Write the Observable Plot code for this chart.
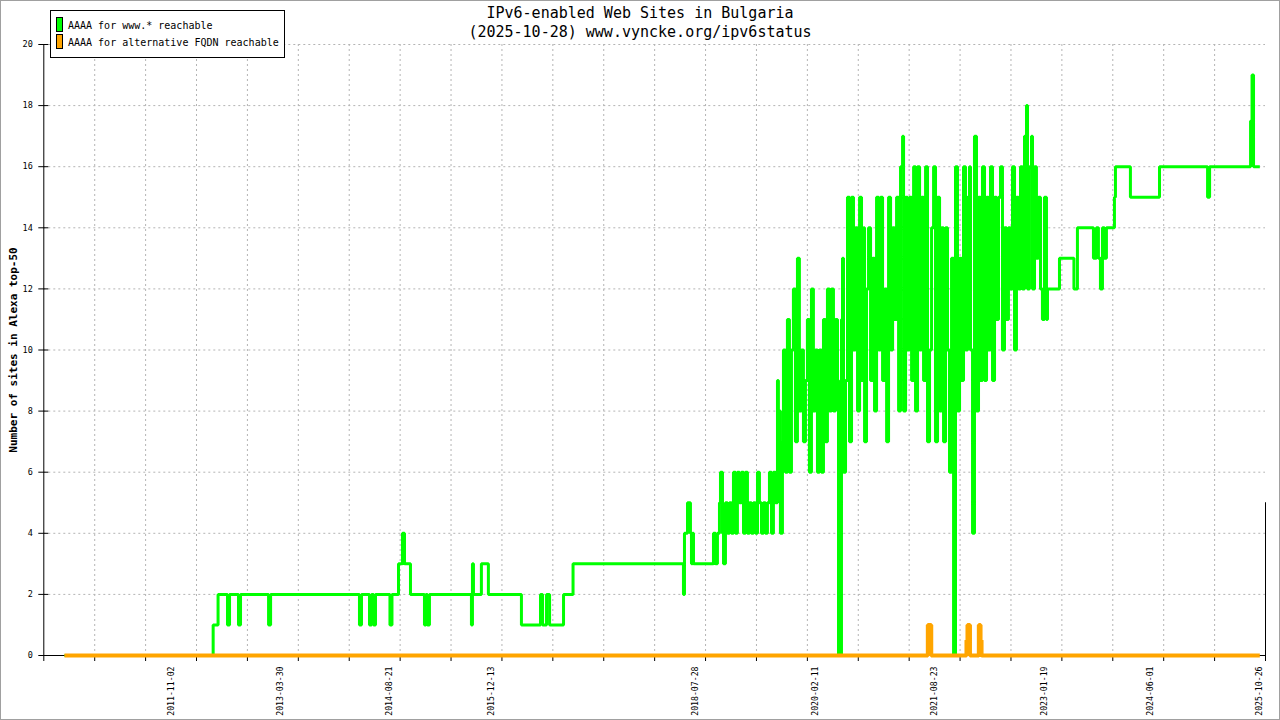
<!DOCTYPE html>
<html>
<head>
<meta charset="utf-8">
<script src="https://cdn.jsdelivr.net/npm/d3@7"></script>
<script src="https://cdn.jsdelivr.net/npm/@observablehq/plot@0.6"></script>
<style>
  body { margin: 0; background: #fff; }
  #wrap { position: relative; width: 1280px; height: 720px; overflow: hidden; font-family: "DejaVu Sans Mono", monospace; }
  #frame { position: absolute; left: 0; top: 0; width: 1280px; height: 720px; box-sizing: border-box; border: 1px solid #a0a0a0; pointer-events: none; }
  #title { position: absolute; left: 0; top: 4px; width: 1280px; text-align: center; font-size: 15px; line-height: 19px; color: #000; }
  #legend { position: absolute; left: 50px; top: 10px; width: 233px; height: 46px; border: 1px solid #000; background: #fff; font-size: 10px; }
  .sw { position: absolute; left: 5px; width: 5px; height: 13px; border: 1px solid #000; }
  .lt { position: absolute; left: 17px; line-height: 10px; white-space: pre; }
</style>
</head>
<body>
<div id="wrap">
  <div id="chart"></div>
  <div id="title">IPv6-enabled Web Sites in Bulgaria<br>(2025-10-28) www.vyncke.org/ipv6status</div>
  <div id="legend">
    <div class="sw" style="top:6px;background:#00ff00"></div>
    <div class="lt" style="top:10px">AAAA for www.* reachable</div>
    <div class="sw" style="top:23px;background:#ffa500"></div>
    <div class="lt" style="top:27px">AAAA for alternative FQDN reachable</div>
  </div>
  <div id="frame"></div>
</div>
<script>
// x range of the frame, as decimal years
const xStart = 2010.195;
const xEnd = 2025.896;

// date labels written under the axis
const labelDates = ["2011-11-02", "2013-03-30", "2014-08-21", "2015-12-13", "2018-07-28",
  "2020-02-11", "2021-08-23", "2023-01-19", "2024-06-01", "2025-10-26"];

const yTicks = [0, 2, 4, 6, 8, 10, 12, 14, 16, 18, 20];

// AAAA for www.* reachable : [decimal year, sites]
const wwwSteps = [
  [2010.461, 0], [2012.372, 1], [2012.435, 2], [2012.556, 1], [2012.582, 2], [2012.697, 1],
  [2012.723, 2], [2013.083, 1], [2013.109, 2], [2014.252, 1], [2014.278, 2], [2014.381, 1],
  [2014.407, 2], [2014.433, 1], [2014.458, 2], [2014.644, 1], [2014.670, 2], [2014.754, 3],
  [2014.805, 4], [2014.831, 3], [2014.908, 2], [2015.088, 1], [2015.107, 2], [2015.126, 1],
  [2015.152, 2], [2015.692, 1], [2015.705, 3], [2015.718, 2], [2015.820, 3], [2015.910, 2],
  [2016.334, 1], [2016.579, 2], [2016.605, 1], [2016.656, 2], [2016.695, 1], [2016.874, 2],
  [2016.996, 3], [2018.416, 2], [2018.429, 4], [2018.468, 5], [2018.506, 4], [2018.519, 3],
  [2018.532, 4], [2018.545, 3],
  [2018.802, 4], [2018.828, 3], [2018.853, 4], [2018.879, 5], [2018.892, 6], [2018.918, 4],
  [2018.931, 3], [2018.956, 5], [2018.982, 4], [2019.008, 5], [2019.033, 4], [2019.059, 6],
  [2019.085, 4], [2019.110, 6], [2019.136, 5], [2019.162, 6], [2019.188, 4], [2019.213, 6],
  [2019.239, 4], [2019.265, 5], [2019.290, 4], [2019.316, 5], [2019.342, 4], [2019.368, 6],
  [2019.393, 5], [2019.419, 4], [2019.445, 5], [2019.470, 4], [2019.496, 5], [2019.522, 6],
  [2019.548, 4], [2019.573, 6], [2019.599, 5], [2019.625, 9], [2019.637, 6], [2019.650, 8],
  [2019.663, 4], [2019.689, 7], [2019.702, 10], [2019.727, 6], [2019.753, 11], [2019.779, 6],
  [2019.805, 10], [2019.830, 12], [2019.856, 7], [2019.882, 13], [2019.907, 8], [2019.933, 10],
  [2019.959, 7], [2019.985, 9], [2020.010, 11], [2020.036, 6], [2020.062, 12], [2020.087, 8],
  [2020.113, 10], [2020.139, 6], [2020.164, 10], [2020.190, 6], [2020.216, 11], [2020.242, 7],
  [2020.267, 12], [2020.293, 8], [2020.319, 12], [2020.344, 8], [2020.370, 11], [2020.396, 9],
  [2020.409, 0], [2020.447, 11], [2020.460, 13], [2020.473, 6], [2020.499, 9], [2020.524, 15],
  [2020.550, 7], [2020.576, 15], [2020.601, 10], [2020.627, 14], [2020.653, 8], [2020.679, 15],
  [2020.704, 9], [2020.730, 14], [2020.743, 7], [2020.768, 12], [2020.794, 14], [2020.820, 9],
  [2020.846, 13], [2020.871, 8], [2020.897, 15], [2020.923, 10], [2020.948, 15], [2020.974, 9],
  [2021.000, 12], [2021.026, 7], [2021.051, 15], [2021.077, 10], [2021.103, 14], [2021.128, 11],
  [2021.154, 15], [2021.180, 8], [2021.205, 16], [2021.231, 17], [2021.244, 8], [2021.270, 15],
  [2021.295, 10], [2021.321, 15], [2021.347, 9], [2021.373, 16], [2021.398, 8], [2021.424, 16],
  [2021.450, 10], [2021.475, 15], [2021.501, 9], [2021.527, 16], [2021.552, 7], [2021.578, 10],
  [2021.604, 14], [2021.630, 16], [2021.655, 7], [2021.681, 15], [2021.707, 8], [2021.732, 14],
  [2021.758, 7], [2021.784, 14], [2021.809, 10], [2021.835, 6], [2021.861, 13], [2021.887, 0],
  [2021.912, 16], [2021.938, 8], [2021.964, 13], [2021.989, 9], [2022.015, 16], [2022.041, 10],
  [2022.067, 15], [2022.092, 16], [2022.105, 10], [2022.131, 4], [2022.156, 17], [2022.182, 8],
  [2022.208, 15], [2022.234, 9], [2022.259, 16], [2022.285, 9], [2022.311, 15], [2022.336, 10],
  [2022.362, 16], [2022.388, 9], [2022.414, 15], [2022.439, 11], [2022.465, 15], [2022.491, 16],
  [2022.516, 10], [2022.542, 14], [2022.568, 11], [2022.593, 14], [2022.619, 12], [2022.645, 16],
  [2022.671, 10], [2022.696, 15], [2022.722, 12], [2022.748, 16], [2022.773, 12], [2022.799, 17],
  [2022.825, 18], [2022.838, 12], [2022.863, 16], [2022.889, 17], [2022.902, 12], [2022.928, 16],
  [2022.953, 13], [2022.979, 15], [2023.005, 12], [2023.030, 11], [2023.056, 15], [2023.082, 11],
  [2023.095, 12], [2023.249, 13], [2023.435, 12], [2023.480, 14], [2023.686, 13], [2023.724, 14],
  [2023.750, 13], [2023.776, 12], [2023.802, 14], [2023.827, 13], [2023.853, 14], [2023.956, 15],
  [2023.969, 16], [2024.161, 15], [2024.534, 16], [2025.151, 15], [2025.177, 16], [2025.704, 17.5],
  [2025.723, 19], [2025.742, 16], [2025.823, 16]
];

// AAAA for alternative FQDN reachable
const altSteps = [
  [2010.461, 0], [2021.556, 1], [2021.600, 0], [2022.053, 0.5], [2022.066, 1], [2022.098, 0],
  [2022.212, 1], [2022.234, 0.5], [2022.247, 0], [2025.823, 0]
];

function fromYear(y) {
  const yr = Math.floor(y);
  const a = Date.UTC(yr, 0, 1), b = Date.UTC(yr + 1, 0, 1);
  return new Date(a + (y - yr) * (b - a));
}

const t0 = fromYear(xStart), t1 = fromYear(xEnd);
// gnuplot splits the time axis in 24 equal steps
const tickDates = d3.range(25).map(i => new Date(+t0 + i * (t1 - t0) / 24));
const labels = labelDates.map(s => new Date(s + "T00:00:00Z"));

const www = wwwSteps.map(([y, v]) => ({date: fromYear(y), value: v}));
const alt = altSteps.map(([y, v]) => ({date: fromYear(y), value: v}));

const grid = {stroke: "#b4b4b4", strokeOpacity: 1, strokeDasharray: "2,3"};

const plot = Plot.plot({
  width: 1280,
  height: 720,
  marginLeft: 43.3,
  marginRight: 15,
  marginTop: 44,
  marginBottom: 65,
  style: {fontFamily: "'DejaVu Sans Mono', monospace", fontSize: "8px", color: "#000", background: "#fff"},
  x: {type: "utc", domain: [t0, t1]},
  y: {domain: [0, 20]},
  marks: [
    Plot.gridX(tickDates.slice(1, 24), grid),
    Plot.gridY(yTicks.slice(1), grid),
    Plot.ruleX([t0], {y1: 0, y2: 20, stroke: "#000"}),
    Plot.ruleX([t1], {y1: 0, y2: 5, stroke: "#000"}),
    Plot.ruleY([0], {stroke: "#000"}),
    Plot.axisX(tickDates, {tickSize: 6, tickFormat: () => "", label: null, stroke: "#000"}),
    Plot.axisX(labels, {tickSize: 0, tickPadding: 11, tickRotate: -90, tickFormat: d3.utcFormat("%Y-%m-%d"), label: null, fontSize: 8.2}),
    Plot.axisY(yTicks, {tickSize: 10, dx: 5, tickPadding: 6, label: null, fontSize: 8.5}),
    Plot.text(["Number of sites in Alexa top-50"], {frameAnchor: "left", textAnchor: "middle", rotate: -90, dx: -30, fontSize: 11, fontWeight: "bold", fill: "#000"}),
    Plot.line(www, {x: "date", y: "value", curve: "step-after", stroke: "#00ff00", strokeWidth: 3, strokeLinejoin: "miter", strokeLinecap: "butt"}),
    Plot.line(alt, {x: "date", y: "value", curve: "step-after", stroke: "#ffa500", strokeWidth: 4, strokeLinejoin: "miter", strokeLinecap: "butt"})
  ]
});

document.getElementById("chart").append(plot);
</script>
</body>
</html>
